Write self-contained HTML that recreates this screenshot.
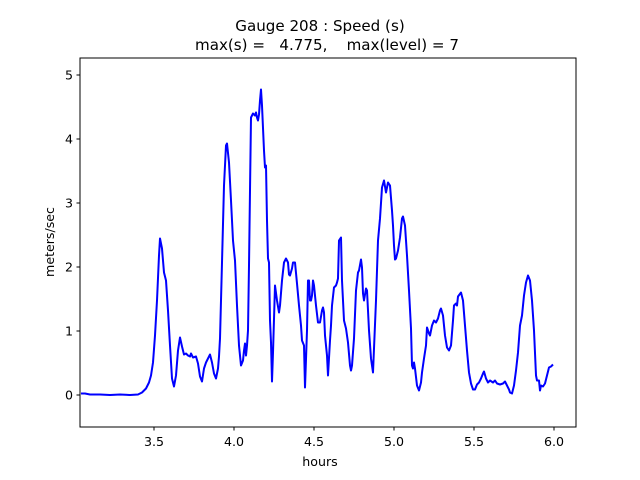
<!DOCTYPE html>
<html><head><style>body{margin:0;background:#fff}svg{display:block}text{font-family:"DejaVu Sans","Liberation Sans",sans-serif;fill:#000}</style></head>
<body>
<svg width="640" height="480" viewBox="0 0 640 480">
<rect width="640" height="480" fill="#fff"/>
<text x="320" y="31" font-size="15.1" text-anchor="middle">Gauge 208 : Speed (s)</text>
<text x="327" y="50" font-size="15.1" text-anchor="middle" xml:space="preserve">max(s) =   4.775,    max(level) = 7</text>
<g stroke="#000" stroke-width="1">
<line x1="154" y1="427" x2="154" y2="430.5"/><line x1="234" y1="427" x2="234" y2="430.5"/><line x1="314" y1="427" x2="314" y2="430.5"/><line x1="394" y1="427" x2="394" y2="430.5"/><line x1="474" y1="427" x2="474" y2="430.5"/><line x1="554" y1="427" x2="554" y2="430.5"/>
<line x1="76.5" y1="395" x2="80" y2="395"/><line x1="76.5" y1="331" x2="80" y2="331"/><line x1="76.5" y1="267" x2="80" y2="267"/><line x1="76.5" y1="203" x2="80" y2="203"/><line x1="76.5" y1="139" x2="80" y2="139"/><line x1="76.5" y1="75" x2="80" y2="75"/>
</g>
<g font-size="12.6" text-anchor="middle">
<text x="154" y="446">3.5</text><text x="234" y="446">4.0</text><text x="314" y="446">4.5</text><text x="394" y="446">5.0</text><text x="474" y="446">5.5</text><text x="554" y="446">6.0</text>
<text x="320" y="466">hours</text>
</g>
<g font-size="12.6" text-anchor="end">
<text x="73" y="399.5">0</text><text x="73" y="335.5">1</text><text x="73" y="271.5">2</text><text x="73" y="207.5">3</text><text x="73" y="143.5">4</text><text x="73" y="79.5">5</text>
</g>
<text transform="translate(54,242) rotate(-90)" font-size="12.6" text-anchor="middle">meters/sec</text>
<polyline fill="none" stroke="#0000ff" stroke-width="2" stroke-linejoin="round" points="81,393.5 85,393.5 90,394.5 100,394.5 110,395 120,394.5 130,395 138,394.5 142,392.5 146,388.5 149,382.5 151,375.5 153,362.5 155,335.5 157,300.5 159,255.5 160,238.5 162,248.5 164,272.5 166,280.5 168,310.5 170,345.5 172,378.5 174,386.5 176,375.5 178,350.5 180,337.5 182,346.5 184,354.5 186,353.5 188,355.5 190,356.5 191,353.5 193,357.5 196,356.5 198,363.5 200,376.5 202,381.5 204,368.5 206,362.5 208,358.5 210,354.5 212,362.5 214,373.5 216,378.5 218,368.5 219,356.5 220,338.5 222,262.5 224,185.5 226,145.5 227,143.5 229,162.5 231,200.5 233,240.5 235,260.5 237,305.5 239,345.5 241,365.5 243,360.5 244,350.5 245,343.5 246,355.5 247,345.5 248,330.5 249,265.5 250,190.5 251,117.5 253,113.5 255,115.5 256,112.5 257,117.5 258,120.5 259,114.5 260,100.5 261,89.5 262,105.5 264,150.5 265,167.5 266,165.5 267,220.5 268,258.5 269,262.5 270,320.5 271,342.5 272,381.5 273,352.5 275,285.5 277,300.5 279,312.5 280,305.5 282,280.5 284,262.5 286,258.5 288,262.5 289,274.5 290,275.5 292,268.5 293,262.5 295,262.5 297,283.5 299,305.5 301,325.5 302,340.5 304,345.5 305,387.5 307,330.5 308,280.5 309,280.5 310,300.5 311,300.5 312,295.5 313,280.5 314,285.5 316,305.5 318,322.5 320,322.5 322,310.5 323,307.5 324,312.5 325,335.5 327,355.5 328,375.5 330,340.5 331,325.5 332,305.5 334,287.5 336,285.5 337,282.5 338,278.5 339,240.5 341,237.5 342,280.5 344,320.5 346,328.5 348,342.5 350,365.5 351,370.5 352,365.5 354,338.5 356,290.5 358,272.5 359,270.5 361,259.5 362,267.5 363,293.5 364,300.5 366,288.5 367,290.5 369,330.5 371,358.5 373,372.5 376,300.5 378,240.5 380,218.5 382,187.5 384,180.5 386,192.5 388,182.5 390,185.5 392,210.5 393,225.5 394,245.5 395,259.5 396,258.5 398,250.5 400,237.5 402,218.5 403,216.5 405,225.5 406,240.5 407,255.5 409,290.5 411,328.5 412,365.5 413,368.5 414,362.5 415,368.5 417,385.5 419,390.5 421,382.5 422,372.5 424,358.5 426,345.5 427,327.5 429,333.5 430,335.5 432,325.5 434,320.5 436,322.5 438,318.5 440,310.5 441,308.5 443,315.5 445,335.5 447,347.5 449,350.5 451,345.5 453,320.5 454,305.5 456,303.5 457,305.5 458,296.5 461,292.5 463,300.5 465,325.5 467,350.5 469,372.5 471,383.5 473,389.5 475,389.5 477,384.5 479,382.5 481,378.5 483,373.5 484,371.5 486,378.5 488,382.5 490,380.5 493,382.5 495,380.5 497,383.5 500,384.5 503,383.5 505,381.5 507,385.5 509,389.5 510,392.5 512,393.5 514,385.5 516,370.5 518,352.5 520,325.5 522,315.5 524,295.5 526,282.5 528,275.5 530,280.5 532,300.5 534,330.5 536,375.5 537,380.5 539,380.5 540,390.5 541,385.5 543,386.5 545,383.5 547,375.5 549,367.5 551,366.5 553,364.5"/>
<rect x="80" y="58" width="496" height="369" fill="none" stroke="#000" stroke-width="1"/>
</svg>
</body></html>
